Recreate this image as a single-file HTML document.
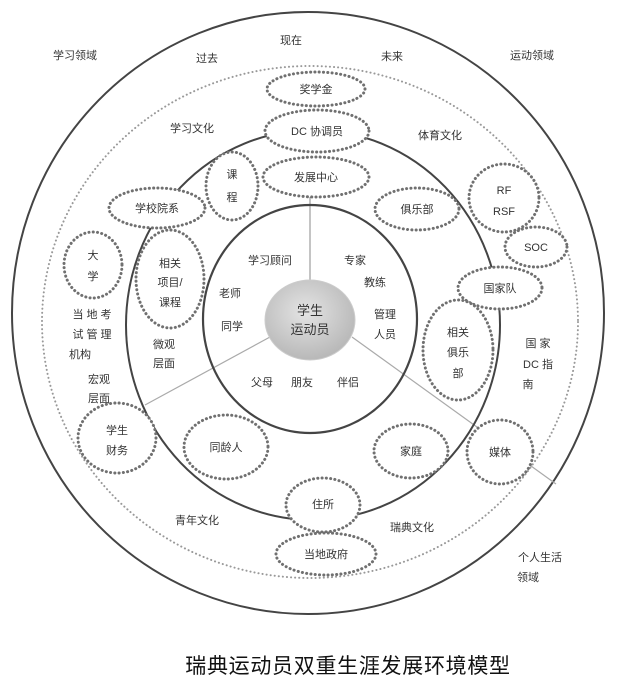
<!DOCTYPE html>
<html><head><meta charset="utf-8"><style>
html,body{margin:0;padding:0;background:#fff;width:640px;height:681px;overflow:hidden}
svg{display:block}
text{font-family:"Liberation Sans","Noto Sans CJK SC",sans-serif;font-size:11px;fill:#333;text-anchor:middle}
.d{fill:#fff;stroke:#707070;stroke-width:3;stroke-dasharray:0.1 4.2;stroke-linecap:round}
.d2{fill:none;stroke:#999;stroke-width:2;stroke-dasharray:0.1 4;stroke-linecap:round}
</style></head><body>
<svg width="640" height="681" viewBox="0 0 640 681">
<defs><radialGradient id="g" cx="45%" cy="40%" r="60%"><stop offset="0" stop-color="#e4e4e4"/><stop offset="1" stop-color="#b8b8b8"/></radialGradient></defs>
<ellipse cx="308" cy="313" rx="296" ry="301" fill="none" stroke="#444" stroke-width="2"/>
<ellipse cx="310" cy="322" rx="268" ry="256" class="d2"/>
<line x1="310" y1="197" x2="310" y2="282" stroke="#888" stroke-width="1"/>
<line x1="270" y1="337" x2="145" y2="405" stroke="#aaa" stroke-width="1.2"/>
<line x1="352" y1="337" x2="556" y2="484" stroke="#aaa" stroke-width="1.2"/>
<ellipse cx="313" cy="325" rx="187" ry="195" fill="none" stroke="#444" stroke-width="2"/>
<ellipse cx="310" cy="319" rx="107" ry="114" fill="none" stroke="#444" stroke-width="2.2"/>
<ellipse cx="310" cy="320" rx="45" ry="40" fill="url(#g)" stroke="#ccc"/>
<ellipse cx="316" cy="89" rx="49" ry="17" class="d"/>
<ellipse cx="317" cy="131" rx="52" ry="21" class="d"/>
<ellipse cx="316" cy="177" rx="53" ry="20" class="d"/>
<ellipse cx="232" cy="186" rx="26" ry="34" class="d"/>
<ellipse cx="157" cy="208" rx="48" ry="20" class="d"/>
<ellipse cx="417" cy="209" rx="42" ry="21" class="d"/>
<ellipse cx="504" cy="198" rx="35" ry="34" class="d"/>
<ellipse cx="536" cy="247" rx="31" ry="20" class="d"/>
<ellipse cx="500" cy="288" rx="42" ry="21" class="d"/>
<ellipse cx="93" cy="265" rx="29" ry="33" class="d"/>
<ellipse cx="170" cy="279" rx="34" ry="49" class="d"/>
<ellipse cx="458" cy="350" rx="35" ry="50" class="d"/>
<ellipse cx="117" cy="438" rx="39" ry="35" class="d"/>
<ellipse cx="226" cy="447" rx="42" ry="32" class="d"/>
<ellipse cx="411" cy="451" rx="37" ry="27" class="d"/>
<ellipse cx="500" cy="452" rx="33" ry="32" class="d"/>
<ellipse cx="323" cy="505" rx="37" ry="27" class="d"/>
<ellipse cx="326" cy="554" rx="50" ry="21" class="d"/>
<text x="75" y="59">学习领域</text>
<text x="291" y="44">现在</text>
<text x="207" y="62">过去</text>
<text x="392" y="60">未来</text>
<text x="532" y="59">运动领域</text>
<text x="316" y="93">奖学金</text>
<text x="317" y="135">DC 协调员</text>
<text x="316" y="181">发展中心</text>
<text x="192" y="132">学习文化</text>
<text x="440" y="139">体育文化</text>
<text x="232" y="178">课</text><text x="232" y="201">程</text>
<text x="157" y="212">学校院系</text>
<text x="417" y="213">俱乐部</text>
<text x="504" y="194">RF</text><text x="504" y="215">RSF</text>
<text x="536" y="251">SOC</text>
<text x="500" y="292">国家队</text>
<text x="93" y="259">大</text><text x="93" y="280">学</text>
<text x="170" y="267">相关</text><text x="170" y="286">项目/</text><text x="170" y="306">课程</text>
<text x="458" y="336">相关</text><text x="458" y="356">俱乐</text><text x="458" y="377">部</text>
<text x="92" y="318">当 地 考</text><text x="92" y="338">试 管 理</text><text x="80" y="358">机构</text>
<text x="99" y="383">宏观</text><text x="99" y="402">层面</text>
<text x="164" y="348">微观</text><text x="164" y="367">层面</text>
<text x="538" y="347">国  家</text><text x="538" y="368">DC  指</text><text x="528" y="388">南</text>
<text x="117" y="434">学生</text><text x="117" y="454">财务</text>
<text x="226" y="451">同龄人</text>
<text x="411" y="455">家庭</text>
<text x="500" y="456">媒体</text>
<text x="323" y="508">住所</text>
<text x="326" y="558">当地政府</text>
<text x="197" y="524">青年文化</text>
<text x="412" y="531">瑞典文化</text>
<text x="540" y="561">个人生活</text><text x="528" y="581">领域</text>
<text x="270" y="264">学习顾问</text>
<text x="355" y="264">专家</text>
<text x="375" y="286">教练</text>
<text x="230" y="297">老师</text>
<text x="385" y="318">管理</text><text x="385" y="338">人员</text>
<text x="232" y="330">同学</text>
<text x="262" y="386">父母</text>
<text x="302" y="386">朋友</text>
<text x="348" y="386">伴侣</text>
<text x="310" y="315" style="font-size:13px">学生</text>
<text x="310" y="334" style="font-size:13px">运动员</text>
<text x="348" y="673" style="font-size:21px;fill:#111;letter-spacing:0.7px">瑞典运动员双重生涯发展环境模型</text>
</svg>
</body></html>
